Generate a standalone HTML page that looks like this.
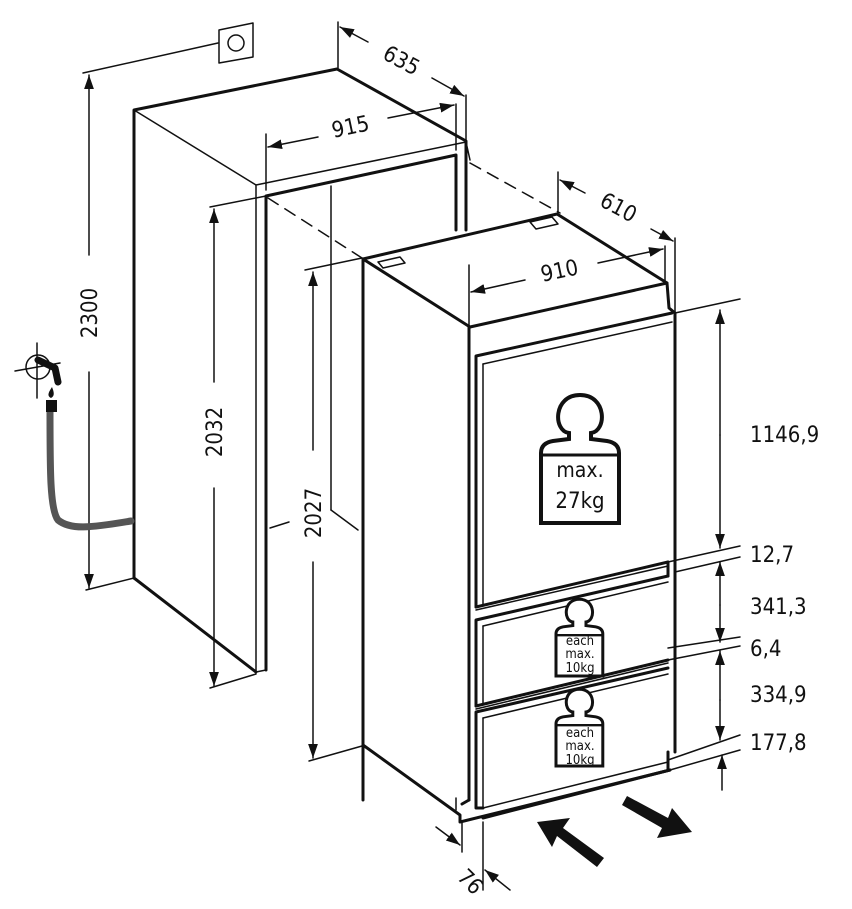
<!DOCTYPE html>
<html><head><meta charset="utf-8"><style>
html,body{margin:0;padding:0;background:#fff;}
svg{display:block;}
text{font-family:"DejaVu Sans Condensed","Liberation Sans Narrow","Liberation Sans",sans-serif;fill:#111;}
</style></head><body>
<svg width="852" height="909" viewBox="0 0 852 909" xmlns="http://www.w3.org/2000/svg">
<defs>
<marker id="a" viewBox="0 0 10 10" refX="10" refY="5" markerWidth="14" markerHeight="14" markerUnits="userSpaceOnUse" orient="auto-start-reverse"><path d="M0,1.5 L10,5 L0,8.5 Z" fill="#111"/></marker>
<path id="w" d="M0,130 L0,60 Q0,50 12,48 L28,46 L28,40 C12,38 12,2 39,2 C66,2 66,38 50,40 L50,46 L66,48 Q78,50 78,60 L78,130 Z"/>
</defs>
<g fill="none" stroke="#111" stroke-linecap="round" stroke-linejoin="round">
<g stroke-width="3">
<polyline points="134,578 134,110 337,69 466,141 466,230"/>
<line x1="134" y1="578" x2="256" y2="672"/>
<polyline points="266,670 266,196 456,155 456,230"/>
</g>
<g stroke-width="1.5">
<line x1="134" y1="110" x2="256" y2="185"/>
<polyline points="256,672 256,185 466,142"/>
<line x1="256" y1="672" x2="266" y2="670"/>
<line x1="466" y1="142" x2="470" y2="160"/>
<line x1="331" y1="186" x2="331" y2="510"/>
<line x1="331" y1="510" x2="358" y2="530"/>
<line x1="268" y1="198" x2="362" y2="258" stroke-dasharray="12,8"/>
<line x1="470" y1="163" x2="560" y2="213" stroke-dasharray="12,8"/>
<polyline points="83,73 218,43"/>
<polygon points="219,30 253,23 253,57 219,63"/>
<circle cx="236" cy="43" r="8"/>
<line x1="89" y1="255" x2="89" y2="75" marker-end="url(#a)"/>
<line x1="89" y1="372" x2="89" y2="588" marker-end="url(#a)"/>
<line x1="86" y1="590" x2="134" y2="578"/>
<line x1="210" y1="207" x2="266" y2="196"/>
<line x1="214" y1="382" x2="214" y2="209" marker-end="url(#a)"/>
<line x1="214" y1="488" x2="214" y2="686" marker-end="url(#a)"/>
<line x1="210" y1="688" x2="256" y2="674"/>
<line x1="270" y1="528" x2="289" y2="522"/>
<line x1="305" y1="270" x2="362" y2="258"/>
<line x1="313" y1="450" x2="313" y2="272" marker-end="url(#a)"/>
<line x1="313" y1="562" x2="313" y2="758" marker-end="url(#a)"/>
<line x1="309" y1="761" x2="362" y2="746"/>
<line x1="338" y1="22" x2="338" y2="68"/>
<line x1="466" y1="95" x2="466" y2="140"/>
<line x1="368" y1="42" x2="340" y2="27" marker-end="url(#a)"/>
<line x1="432" y1="78" x2="464" y2="96" marker-end="url(#a)"/>
<line x1="266" y1="134" x2="266" y2="190"/>
<line x1="456" y1="104" x2="456" y2="150"/>
<line x1="318" y1="137" x2="268" y2="147" marker-end="url(#a)"/>
<line x1="388" y1="118" x2="454" y2="105" marker-end="url(#a)"/>
<line x1="558" y1="172" x2="558" y2="215"/>
<line x1="675" y1="238" x2="675" y2="312"/>
<line x1="585" y1="193" x2="560" y2="180" marker-end="url(#a)"/>
<line x1="651" y1="229" x2="673" y2="241" marker-end="url(#a)"/>
<line x1="469" y1="265" x2="469" y2="325"/>
<line x1="665" y1="246" x2="665" y2="282"/>
<line x1="525" y1="280" x2="471" y2="292" marker-end="url(#a)"/>
<line x1="598" y1="263" x2="663" y2="249" marker-end="url(#a)"/>
</g>
<g stroke-width="3">
<polyline points="363,800 363,259 557,214 667,283 669,308 675,313 675,752"/>
<line x1="363" y1="259" x2="470" y2="327"/>
<line x1="470" y1="327" x2="667" y2="283"/>
<line x1="469" y1="327" x2="469" y2="800"/>
<polyline points="476,607 476,356 672,313"/>
<line x1="476" y1="607" x2="668" y2="562"/>
<polyline points="476,706 476,620 668,576"/>
<line x1="476" y1="706" x2="668" y2="660"/>
<polyline points="483,808 476,808 476,712 668,668"/>
<line x1="483" y1="818" x2="670" y2="770"/>
<polyline points="363,745 460,815 460,822 670,770"/>
<line x1="462" y1="804" x2="469" y2="800"/>
<line x1="668" y1="562" x2="668" y2="576"/>
<line x1="668" y1="752" x2="668" y2="770"/>
</g>
<g stroke-width="1.5">
<line x1="483" y1="364" x2="483" y2="604"/>
<line x1="483" y1="364" x2="672" y2="322"/>
<line x1="476" y1="610" x2="668" y2="566"/>
<line x1="483" y1="626" x2="483" y2="704"/>
<line x1="483" y1="626" x2="668" y2="582"/>
<line x1="483" y1="718" x2="483" y2="808"/>
<line x1="483" y1="718" x2="668" y2="674"/>
<line x1="476" y1="709" x2="668" y2="663"/>
<line x1="483" y1="808" x2="668" y2="762"/>
<line x1="456" y1="810" x2="456" y2="798"/>
<polygon points="378,262 400,257 405,263 383,268"/>
<polygon points="530,222 552,217 558,224 536,229"/>
<line x1="675" y1="313" x2="740" y2="299"/>
<line x1="668" y1="562" x2="740" y2="546"/>
<line x1="675" y1="572" x2="740" y2="557"/>
<line x1="668" y1="648" x2="740" y2="637"/>
<line x1="668" y1="660" x2="740" y2="646"/>
<line x1="668" y1="760" x2="740" y2="735"/>
<line x1="670" y1="770" x2="740" y2="750"/>
<line x1="720" y1="435" x2="720" y2="310" marker-end="url(#a)"/>
<line x1="720" y1="435" x2="720" y2="548" marker-end="url(#a)"/>
<line x1="720" y1="605" x2="720" y2="562" marker-end="url(#a)"/>
<line x1="720" y1="605" x2="720" y2="642" marker-end="url(#a)"/>
<line x1="720" y1="700" x2="720" y2="651" marker-end="url(#a)"/>
<line x1="720" y1="700" x2="720" y2="740" marker-end="url(#a)"/>
<line x1="722" y1="790" x2="722" y2="755" marker-end="url(#a)"/>
<line x1="462" y1="822" x2="462" y2="852"/>
<line x1="483" y1="822" x2="483" y2="890"/>
<line x1="436" y1="827" x2="460" y2="845" marker-end="url(#a)"/>
<line x1="510" y1="890" x2="485" y2="870" marker-end="url(#a)"/>
<circle cx="38" cy="367" r="12"/>
<line x1="15" y1="371" x2="60" y2="363"/>
<line x1="37" y1="343" x2="37" y2="398"/>
</g>
<path d="M131,521 C90,528 70,530 58,520 C50,510 50,470 50,410" stroke="#555" stroke-width="7"/>
<rect x="46" y="400" width="11" height="12" fill="#111" stroke="none"/>
<path d="M52,387 C48,393 47,396 51,398 C55,396 54,392 52,387 Z" fill="#111" stroke="none"/>
<path d="M38,360 L55,368 L58,382" stroke="#111" stroke-width="7"/>
<polygon points="537,822 570,818 563,828 604,858 597,867 557,836 552,847" fill="#111" stroke="none"/>
<polygon points="622,805 627,796 668,818 672,808 692,832 657,838 662,828" fill="#111" stroke="none"/>
</g>
<g transform="translate(541,393)"><use href="#w" fill="#fff" stroke="#111" stroke-width="4"/><line x1="0" y1="62" x2="78" y2="62" stroke="#111" stroke-width="3"/>
<text x="39" y="84" font-size="21" text-anchor="middle">max.</text><text x="39" y="115" font-size="22" text-anchor="middle">27kg</text></g>
<g transform="translate(556,598) scale(0.6)"><use href="#w" fill="#fff" stroke="#111" stroke-width="5"/><line x1="0" y1="62" x2="78" y2="62" stroke="#111" stroke-width="4"/></g>
<g transform="translate(556,688) scale(0.6)"><use href="#w" fill="#fff" stroke="#111" stroke-width="5"/><line x1="0" y1="62" x2="78" y2="62" stroke="#111" stroke-width="4"/></g>
<g font-size="13" text-anchor="middle">
<text x="580" y="645">each</text><text x="580" y="658">max.</text><text x="580" y="672">10kg</text>
<text x="580" y="737">each</text><text x="580" y="750">max.</text><text x="580" y="764">10kg</text>
</g>
<g font-size="22">
<text transform="translate(97,313) rotate(-90)" text-anchor="middle">2300</text>
<text transform="translate(222,432) rotate(-90)" text-anchor="middle">2032</text>
<text transform="translate(321,513) rotate(-90)" text-anchor="middle">2027</text>
<text transform="translate(398,67) rotate(28)" text-anchor="middle">635</text>
<text transform="translate(352,134) rotate(-12)" text-anchor="middle">915</text>
<text transform="translate(615,214) rotate(28)" text-anchor="middle">610</text>
<text transform="translate(561,278) rotate(-12)" text-anchor="middle">910</text>
<text transform="translate(465,887) rotate(45)" text-anchor="middle">76</text>
<text x="750" y="442">1146,9</text>
<text x="750" y="562">12,7</text>
<text x="750" y="614">341,3</text>
<text x="750" y="656">6,4</text>
<text x="750" y="702">334,9</text>
<text x="750" y="750">177,8</text>
</g>
</svg>
</body></html>
